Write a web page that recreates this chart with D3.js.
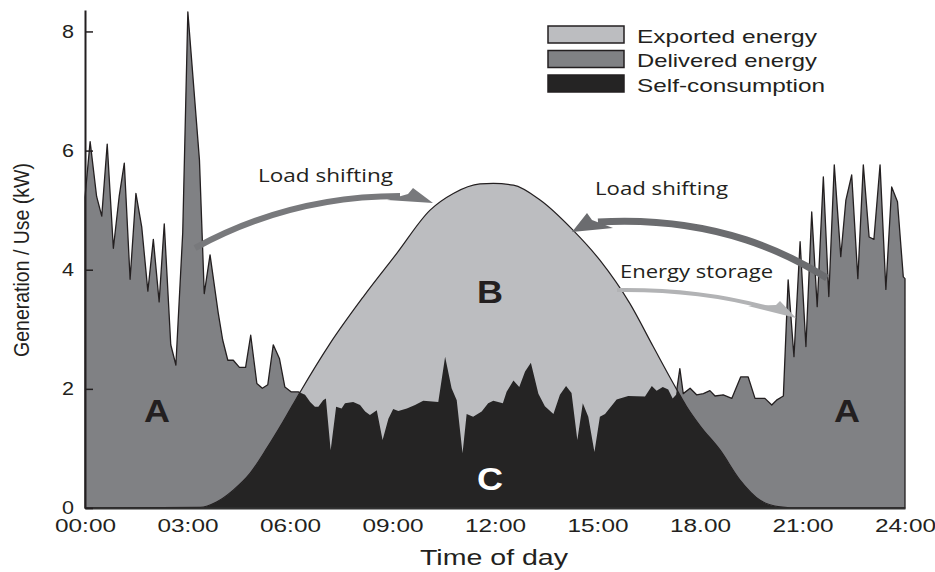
<!DOCTYPE html>
<html>
<head>
<meta charset="utf-8">
<script src="https://cdn.jsdelivr.net/npm/d3@7"></script>
<style>
  body { margin: 0; background: #fff; }
  svg { display: block; }
</style>
</head>
<body>
<script>
// time axis (hours) and labels
var hourTicks = [0, 3, 6, 9, 12, 15, 18, 21, 24];
var tickLabels = ["00:00", "03:00", "06:00", "09:00", "12:00", "15:00", "18.00", "21:00", "24:00"];
var yTicks = [0, 2, 4, 6, 8];

// household load (kW)
var loadHours = [0.00, 0.15, 0.34, 0.49, 0.65, 0.83, 1.00, 1.15, 1.32, 1.49, 1.66, 1.84, 2.00, 2.17, 2.32, 2.51, 2.66, 2.86, 3.01,
  3.35, 3.49, 3.66, 3.90, 4.03, 4.18, 4.34, 4.52, 4.70, 4.85, 5.03, 5.19, 5.35, 5.51, 5.69, 5.85, 6.03, 6.24,
  6.44, 6.59, 6.73, 6.83, 6.97, 7.05, 7.19, 7.35, 7.51, 7.61, 7.85, 8.05, 8.20, 8.34, 8.54, 8.71, 8.88, 9.02,
  9.17, 9.42, 9.66, 9.90, 10.34, 10.54, 10.73, 10.88, 11.05, 11.17, 11.36, 11.61, 11.80, 11.95, 12.23, 12.34,
  12.54, 12.71, 12.88, 13.05, 13.27, 13.46, 13.71, 13.90, 14.08, 14.24, 14.41, 14.57, 14.73, 14.91, 15.07,
  15.22, 15.56, 15.90, 16.39, 16.59, 16.73, 16.91, 17.07, 17.20, 17.30, 17.41, 17.51, 17.71, 17.90, 18.10,
  18.29, 18.44, 18.68, 18.93, 19.19, 19.41, 19.61, 19.90, 20.10, 20.24, 20.44, 20.58, 20.75, 20.93, 21.10,
  21.27, 21.43, 21.61, 21.77, 21.93, 22.12, 22.27, 22.44, 22.62, 22.78, 22.95, 23.09, 23.27, 23.44, 23.61,
  23.78, 23.95, 24.00];
var loadKW = [5.22, 6.15, 5.23, 4.90, 6.11, 4.36, 5.23, 5.79, 3.84, 5.28, 4.72, 3.64, 4.51, 3.46, 4.77, 2.74, 2.40, 4.62, 8.33,
  5.84, 3.60, 4.25, 3.27, 2.82, 2.48, 2.48, 2.36, 2.36, 2.90, 2.09, 2.01, 2.07, 2.74, 2.51, 2.03, 1.95, 1.95,
  1.90, 1.78, 1.70, 1.70, 1.81, 1.84, 0.97, 1.70, 1.67, 1.76, 1.78, 1.73, 1.62, 1.56, 1.64, 1.14, 1.50, 1.66,
  1.63, 1.67, 1.73, 1.80, 1.78, 2.54, 2.01, 1.81, 0.92, 1.58, 1.53, 1.62, 1.76, 1.80, 1.76, 1.95,
  2.14, 2.03, 2.29, 2.44, 1.92, 1.71, 1.58, 1.90, 2.05, 1.93, 1.14, 1.76, 1.53, 0.94, 1.53,
  1.58, 1.82, 1.88, 1.87, 2.05, 1.97, 2.03, 1.99, 1.84, 1.90, 2.34, 1.92, 2.01, 1.90, 1.92,
  1.97, 1.88, 1.90, 1.84, 2.20, 2.20, 1.84, 1.84, 1.73, 1.81, 1.88, 3.83, 2.54, 4.47, 2.71,
  4.97, 3.38, 5.56, 3.55, 5.76, 4.22, 5.17, 5.59, 3.85, 5.76, 4.55, 4.51, 5.76, 3.67, 5.39,
  5.14, 3.88, 3.85];

// PV generation (kW)
var pvHours = [0, 3.37, 3.85, 4.34, 4.83, 5.32, 5.80, 6.29, 7.17, 8.15, 9.12, 10.10, 10.78, 11.56, 11.95,
  12.54, 13.32, 14.29, 15.07, 15.95, 16.63, 17.22, 17.61, 18.00, 18.59, 19.17, 19.76, 20.34, 20.93, 24];
var pvKW = [0, 0.01, 0.10, 0.30, 0.58, 1.00, 1.45, 1.94, 2.76, 3.55, 4.27, 5.00, 5.28, 5.44, 5.45,
  5.42, 5.17, 4.66, 4.16, 3.43, 2.71, 2.09, 1.70, 1.38, 0.97, 0.47, 0.13, 0.02, 0, 0];

var legendNames = ["Exported energy", "Delivered energy", "Self-consumption"];
var legendColors = ["#bcbdc0", "#808184", "#252424"];

var sansFont = "'Liberation Sans', Arial, Helvetica, sans-serif";

var svg = d3.select("body").append("svg")
  .attr("width", 935)
  .attr("height", 572);

var x = d3.scaleLinear().domain([0, 24]).range([85, 905]);
var y = d3.scaleLinear().domain([0, 8.36]).range([508, 10]);

var loadData = loadHours.map(function(h, i) { return {h: h, v: loadKW[i]}; });
var pvData = pvHours.map(function(h, i) { return {h: h, v: pvKW[i]}; });

var loadArea = d3.area().x(d => x(d.h)).y0(y(0)).y1(d => y(d.v));
var pvArea = d3.area().x(d => x(d.h)).y0(y(0)).y1(d => y(d.v)).curve(d3.curveMonotoneX);
var pvLine = d3.line().x(d => x(d.h)).y(d => y(d.v)).curve(d3.curveMonotoneX);

svg.append("defs").append("clipPath").attr("id", "pvClip")
  .append("path").attr("d", pvArea(pvData));

// delivered (load)
svg.append("path")
  .attr("d", loadArea(loadData))
  .attr("fill", "#808184")
  .attr("stroke", "#231f20")
  .attr("stroke-width", 1.3)
  .attr("stroke-linejoin", "round");

// exported (pv)
svg.append("path")
  .attr("d", pvArea(pvData))
  .attr("fill", "#bcbdc0");
svg.append("path")
  .attr("d", pvLine(pvData))
  .attr("fill", "none")
  .attr("stroke", "#231f20")
  .attr("stroke-width", 1.2);

// self-consumption = load under the pv curve
svg.append("path")
  .attr("d", loadArea(loadData))
  .attr("fill", "#252424")
  .attr("clip-path", "url(#pvClip)");

// axes
var xAxis = svg.append("g")
  .attr("transform", "translate(0,508)")
  .call(d3.axisBottom(x).tickValues(hourTicks).tickFormat((d, i) => tickLabels[i]).tickSize(0).tickPadding(12));
xAxis.select(".domain").attr("stroke", "#333").attr("stroke-width", 2.2);
xAxis.selectAll("text")
  .style("font-family", sansFont)
  .style("font-size", "17.5px")
  .attr("fill", "#231f20")
  .attr("textLength", 61)
  .attr("lengthAdjust", "spacingAndGlyphs");

var yAxis = svg.append("g")
  .attr("transform", "translate(85,0)")
  .call(d3.axisLeft(y).tickValues(yTicks).tickSizeInner(-8).tickSizeOuter(0).tickPadding(11));
yAxis.select(".domain").attr("stroke", "#231f20").attr("stroke-width", 2);
yAxis.selectAll("line").attr("stroke", "#231f20").attr("stroke-width", 1.5);
yAxis.selectAll("text")
  .style("font-family", sansFont)
  .style("font-size", "18.5px")
  .attr("fill", "#231f20")
  .attr("textLength", 12)
  .attr("lengthAdjust", "spacingAndGlyphs");

svg.append("text")
  .attr("transform", "translate(29,260) rotate(-90) scale(1,1.25)")
  .attr("text-anchor", "middle")
  .style("font-family", sansFont)
  .style("font-size", "18px")
  .attr("fill", "#231f20")
  .attr("textLength", 194)
  .attr("lengthAdjust", "spacingAndGlyphs")
  .text("Generation / Use (kW)");

svg.append("text")
  .attr("x", 420).attr("y", 565)
  .style("font-family", sansFont)
  .style("font-size", "22px")
  .attr("fill", "#231f20")
  .attr("textLength", 148)
  .attr("lengthAdjust", "spacingAndGlyphs")
  .text("Time of day");

// arrows
svg.append("path")
  .attr("d", "M195,248 Q290,196 400,196")
  .attr("fill", "none").attr("stroke", "#78797c").attr("stroke-width", 6);
svg.append("path")
  .attr("d", "M433,203 L413,188 L408,194 L387,200 Z")
  .attr("fill", "#78797c");

svg.append("path")
  .attr("d", "M827,278 C795,258 720,215 598,222")
  .attr("fill", "none").attr("stroke", "#6b6c6f").attr("stroke-width", 7);
svg.append("path")
  .attr("d", "M572,232 L587,213 L592,220 L613,228 Z")
  .attr("fill", "#6b6c6f");

svg.append("path")
  .attr("d", "M617,290 Q700,289 768,308")
  .attr("fill", "none").attr("stroke", "#b2b3b5").attr("stroke-width", 4);
svg.append("path")
  .attr("d", "M796,318 L780,301 L776,305 L748,306 Z")
  .attr("fill", "#b2b3b5");

// annotation texts
var notes = [
  {t: "Load shifting", x: 258, y: 182, w: 135},
  {t: "Load shifting", x: 595, y: 195, w: 133},
  {t: "Energy storage", x: 620, y: 278, w: 153}
];
svg.selectAll(".note").data(notes).enter().append("text")
  .attr("class", "note")
  .attr("x", d => d.x).attr("y", d => d.y)
  .style("font-family", "'Open Sans', sans-serif")
  .style("font-size", "19px")
  .attr("fill", "#231f20")
  .attr("textLength", d => d.w)
  .attr("lengthAdjust", "spacingAndGlyphs")
  .text(d => d.t);

var letters = [
  {t: "A", x: 157, y: 422, c: "#231f20"},
  {t: "A", x: 847, y: 422, c: "#231f20"},
  {t: "B", x: 490, y: 303, c: "#231f20"},
  {t: "C", x: 490, y: 490, c: "#ffffff"}
];
svg.selectAll(".letter").data(letters).enter().append("text")
  .attr("class", "letter")
  .attr("x", d => d.x - 13).attr("y", d => d.y)
  .style("font-family", sansFont)
  .style("font-weight", "bold")
  .style("font-size", "32px")
  .attr("fill", d => d.c)
  .attr("textLength", 26)
  .attr("lengthAdjust", "spacingAndGlyphs")
  .text(d => d.t);

// legend
var legend = svg.append("g").attr("transform", "translate(548,26)");
var rows = legend.selectAll("g").data(legendNames).enter().append("g")
  .attr("transform", (d, i) => "translate(0," + (i * 24.5) + ")");
rows.append("rect")
  .attr("width", 76).attr("height", 17)
  .attr("fill", (d, i) => legendColors[i])
  .attr("stroke", "#231f20").attr("stroke-width", 1.5);
rows.append("text")
  .attr("x", 89).attr("y", 16.5)
  .style("font-family", sansFont)
  .style("font-size", "17.7px")
  .attr("fill", "#231f20")
  .attr("textLength", (d, i) => [180, 180, 188][i])
  .attr("lengthAdjust", "spacingAndGlyphs")
  .text(d => d);
</script>
</body>
</html>
